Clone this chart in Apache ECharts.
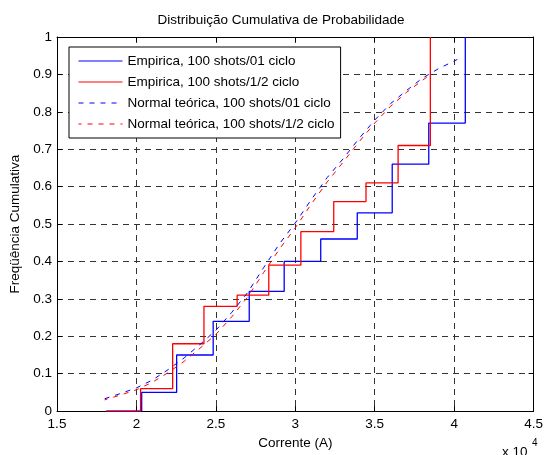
<!DOCTYPE html>
<html>
<head>
<meta charset="utf-8">
<script src="https://cdn.jsdelivr.net/npm/echarts@6/dist/echarts.min.js"></script>
<style>html,body{margin:0;padding:0;background:#fff;}#c{width:546px;height:455px;}</style>
</head>
<body>
<div id="c"></div>
<script>
// Values in units of 10^4 A
const xTicks = [1.5, 2, 2.5, 3, 3.5, 4, 4.5];
const yTicks = [0, 0.1, 0.2, 0.3, 0.4, 0.5, 0.6, 0.7, 0.8, 0.9, 1];
const seriesNames = [
  'Empirica, 100 shots/01 ciclo',
  'Empirica, 100 shots/1/2 ciclo',
  'Normal teórica, 100 shots/01 ciclo',
  'Normal teórica, 100 shots/1/2 ciclo'
];
// Empirical CDF steps: [x where the step jumps, new level]
const empX1 = [1.81, 2.033, 2.253, 2.483, 2.71, 2.93, 3.16, 3.39, 3.61, 3.84, 4.07];
const empY1 = [0, 0.05, 0.15, 0.24, 0.32, 0.40, 0.46, 0.53, 0.66, 0.77, 1.0];
const empX2 = [1.81, 2.026, 2.228, 2.425, 2.634, 2.833, 3.035, 3.242, 3.445, 3.647, 3.85];
const empY2 = [0, 0.06, 0.18, 0.28, 0.31, 0.39, 0.48, 0.56, 0.61, 0.71, 1.0];
// Theoretical normal CDF curves
const normX1 = [1.80, 1.90, 2.00, 2.10, 2.20, 2.30, 2.40, 2.50, 2.60, 2.70, 2.80, 2.90, 3.00, 3.10, 3.20, 3.30, 3.40, 3.50, 3.60, 3.70, 3.80, 3.90, 4.02];
const normY1 = [0.033, 0.047, 0.062, 0.083, 0.111, 0.142, 0.178, 0.216, 0.264, 0.317, 0.383, 0.447, 0.503, 0.565, 0.624, 0.674, 0.728, 0.778, 0.822, 0.857, 0.890, 0.915, 0.940];
const normX2 = [1.80, 1.90, 2.00, 2.10, 2.20, 2.30, 2.40, 2.50, 2.60, 2.70, 2.80, 2.90, 3.00, 3.10, 3.20, 3.30, 3.40, 3.50, 3.60, 3.70, 3.85];
const normY2 = [0.030, 0.043, 0.057, 0.077, 0.103, 0.133, 0.168, 0.205, 0.252, 0.305, 0.370, 0.433, 0.490, 0.553, 0.612, 0.665, 0.719, 0.770, 0.815, 0.852, 0.900];

const zip = (xs, ys) => xs.map((x, i) => [x, ys[i]]);
const FONT = 'Liberation Sans, Arial, sans-serif';
const FS = 13.5;
const chart = echarts.init(document.getElementById('c'), null, {renderer: 'canvas'});

const tickCommon = {show: true, inside: true, length: 5, lineStyle: {color: '#000', width: 1}};
const lineCommon = {show: true, onZero: false, lineStyle: {color: '#000', width: 1}};

chart.setOption({
  animation: false,
  backgroundColor: '#fff',
  grid: {left: 57, right: 12, top: 37, bottom: 42, containLabel: false},
  graphic: [
    {type: 'text', x: 281, y: 20, style: {text: 'Distribuição Cumulativa de Probabilidade', font: FS + 'px ' + FONT, fill: '#000', textAlign: 'center', textVerticalAlign: 'middle'}},
    {type: 'text', x: 502, y: 452, style: {text: 'x 10', font: FS + 'px ' + FONT, fill: '#000', textAlign: 'left', textVerticalAlign: 'middle'}},
    {type: 'text', x: 532, y: 443, style: {text: '4', font: '10px ' + FONT, fill: '#000', textAlign: 'left', textVerticalAlign: 'middle'}}
  ],
  legend: {
    orient: 'vertical',
    left: 69, top: 47,
    data: seriesNames,
    itemWidth: 44, itemHeight: 14, itemGap: 7,
    padding: [7, 6, 7, 9],
    backgroundColor: '#fff',
    borderColor: '#000', borderWidth: 1,
    itemStyle: {opacity: 0},
    lineStyle: {width: 1},
    textStyle: {fontFamily: FONT, fontSize: FS, lineHeight: 14, color: '#000'}
  },
  xAxis: [
    {type: 'value', position: 'bottom', min: xTicks[0], max: xTicks[xTicks.length - 1], interval: 0.5,
     name: 'Corrente (A)', nameLocation: 'middle', nameGap: 23,
     nameTextStyle: {fontFamily: FONT, fontSize: FS, color: '#000'},
     axisLine: lineCommon, axisTick: tickCommon,
     axisLabel: {margin: 6, fontFamily: FONT, fontSize: FS, color: '#000', formatter: v => String(+v.toFixed(1))},
     splitLine: {show: true, lineStyle: {color: '#333', width: 1, type: [6, 5]}}},
    {type: 'value', position: 'top', min: xTicks[0], max: xTicks[xTicks.length - 1], interval: 0.5,
     axisLine: lineCommon, axisTick: tickCommon, axisLabel: {show: false}, splitLine: {show: false}}
  ],
  yAxis: [
    {type: 'value', position: 'left', min: yTicks[0], max: yTicks[yTicks.length - 1], interval: 0.1,
     name: 'Freqüência Cumulativa', nameLocation: 'middle', nameGap: 33, nameRotate: 90,
     nameTextStyle: {fontFamily: FONT, fontSize: FS, color: '#000'},
     axisLine: lineCommon, axisTick: tickCommon,
     axisLabel: {margin: 5, fontFamily: FONT, fontSize: FS, color: '#000', formatter: v => String(+v.toFixed(1))},
     splitLine: {show: true, lineStyle: {color: '#333', width: 1, type: [6, 5]}}},
    {type: 'value', position: 'right', min: yTicks[0], max: yTicks[yTicks.length - 1], interval: 0.1,
     axisLine: lineCommon, axisTick: tickCommon, axisLabel: {show: false}, splitLine: {show: false}}
  ],
  series: [
    {name: seriesNames[0], type: 'line', step: 'end', symbol: 'none', data: zip(empX1, empY1),
     lineStyle: {color: '#0000ff', width: 1.3}, itemStyle: {color: '#0000ff'}, z: 3},
    {name: seriesNames[1], type: 'line', step: 'end', symbol: 'none', data: zip(empX2, empY2),
     lineStyle: {color: '#ff0000', width: 1.3}, itemStyle: {color: '#ff0000'}, z: 3},
    {name: seriesNames[2], type: 'line', symbol: 'none', smooth: false, data: zip(normX1, normY1),
     lineStyle: {color: '#0000ff', width: 1, type: [5, 6]}, itemStyle: {color: '#0000ff'}, z: 4},
    {name: seriesNames[3], type: 'line', symbol: 'none', smooth: false, data: zip(normX2, normY2),
     lineStyle: {color: '#ff0000', width: 1, type: [5, 6], dashOffset: 2}, itemStyle: {color: '#ff0000'}, z: 4}
  ]
});
</script>
</body>
</html>
